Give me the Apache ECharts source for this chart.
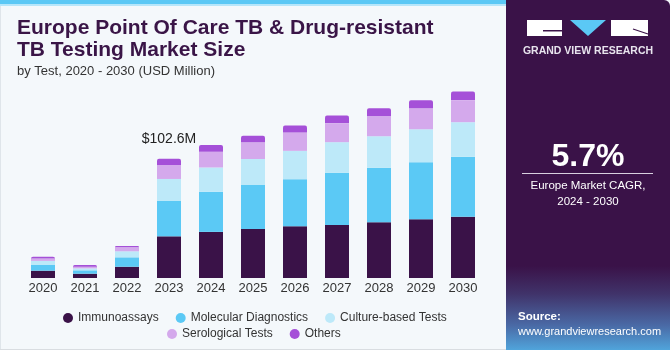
<!DOCTYPE html>
<html lang="en">
<head>
    <meta charset="UTF-8" />
    <title>Europe Point Of Care TB & Drug-resistant TB Testing Market Size</title>
    <script src="https://cdn.jsdelivr.net/npm/echarts@6.0.0/dist/echarts.min.js"></script>
    <style>
        html, body { margin: 0; padding: 0; background: #ffffff; }
        #chart { width: 670px; height: 350px; }
    </style>
</head>
<body>
    <div id="chart"></div>
    <script>
        // datos (USD Million)
        const years = ['2020', '2021', '2022', '2023', '2024', '2025', '2026', '2027', '2028', '2029', '2030'];
        const immunoassays = [6.3, 3.7, 9.7, 35.9, 39.7, 42.2, 44.6, 45.7, 48.0, 50.6, 52.8];
        const molecular = [5.2, 2.9, 8.1, 30.4, 34.5, 37.9, 40.5, 44.8, 46.8, 49.1, 51.5];
        const culture = [3.2, 1.7, 5.2, 19.0, 21.0, 22.4, 24.4, 26.5, 27.3, 28.4, 29.9];
        const serological = [2.0, 1.4, 3.4, 12.1, 13.5, 14.4, 15.8, 16.4, 17.5, 18.1, 19.0];
        const others = [1.7, 1.4, 1.1, 5.2, 5.8, 5.7, 6.0, 6.6, 6.6, 6.9, 7.4];
        const annotationIndex = 3;
        const annotationText = '$102.6M';

        const colors = ['#3a1248', '#5bc9f5', '#bde9f9', '#d4a9ec', '#a550d8'];
        const names = ['Immunoassays', 'Molecular Diagnostics', 'Culture-based Tests', 'Serological Tests', 'Others'];
        const values = [immunoassays, molecular, culture, serological, others];

        const chart = echarts.init(document.getElementById('chart'));

        const series = values.map((data, i) => {
            const s = {
                name: names[i],
                type: 'bar',
                stack: 'total',
                barWidth: 24,
                data: data,
                itemStyle: { color: colors[i] },
                emphasis: { disabled: true }
            };
            if (i === values.length - 1) {
                s.itemStyle.borderRadius = [2, 2, 0, 0];
                s.label = {
                    show: true,
                    position: 'top',
                    distance: 13,
                    fontSize: 14,
                    color: '#222',
                    fontFamily: 'Liberation Sans',
                    formatter: p => p.dataIndex === annotationIndex ? annotationText : ''
                };
            }
            return s;
        });

        const legendText = { fontSize: 12, color: '#333', fontFamily: 'Liberation Sans' };

        chart.setOption({
            animation: false,
            backgroundColor: '#f4f8fb',
            grid: { left: 22, right: 186, top: 69, bottom: 72 },
            xAxis: {
                type: 'category',
                data: years,
                axisLine: { show: false },
                axisTick: { show: false },
                axisLabel: { fontSize: 13, color: '#333', margin: 4, fontFamily: 'Liberation Sans' }
            },
            yAxis: { type: 'value', min: 0, max: 180, show: false },
            legend: [
                {
                    data: names.slice(0, 3),
                    left: 58, top: 307,
                    icon: 'circle', itemWidth: 10, itemHeight: 10, itemGap: 17,
                    textStyle: legendText, selectedMode: false
                },
                {
                    data: names.slice(3),
                    left: 162, top: 323,
                    icon: 'circle', itemWidth: 10, itemHeight: 10, itemGap: 17,
                    textStyle: legendText, selectedMode: false
                }
            ],
            series: series,
            graphic: [
                // borde izquierdo y barra superior
                { type: 'rect', shape: { x: 0, y: 0, width: 1, height: 350 }, style: { fill: '#dfe5ea' } },
                { type: 'rect', shape: { x: 0, y: 349, width: 670, height: 1 }, style: { fill: '#d9dde1' } },
                { type: 'rect', shape: { x: 0, y: 0, width: 506, height: 4 }, style: { fill: '#5bc8f5' } },
                { type: 'rect', shape: { x: 0, y: 4, width: 506, height: 2 }, style: { fill: '#b6e6fa' } },
                // titulo
                {
                    type: 'text', left: 17, top: 17,
                    style: {
                        text: 'Europe Point Of Care TB & Drug-resistant\nTB Testing Market Size',
                        font: 'bold 21px "Liberation Sans"', lineHeight: 22, fill: '#3a1547'
                    }
                },
                {
                    type: 'text', left: 17, top: 65,
                    style: { text: 'by Test, 2020 - 2030 (USD Million)', font: '13px "Liberation Sans"', fill: '#333' }
                },
                // panel derecho
                {
                    type: 'rect',
                    shape: { x: 506, y: 0, width: 164, height: 350, r: [0, 6, 0, 0] },
                    style: {
                        fill: new echarts.graphic.LinearGradient(0, 0, 0, 1, [
                            { offset: 0, color: '#3a1248' },
                            { offset: 0.76, color: '#3a1248' },
                            { offset: 0.84, color: '#40336a' },
                            { offset: 0.93, color: '#4a6aa6' },
                            { offset: 1, color: '#50a4db' }
                        ])
                    }
                },
                // logo
                { type: 'rect', shape: { x: 527, y: 20, width: 35, height: 16 }, style: { fill: '#ffffff' } },
                { type: 'rect', shape: { x: 543, y: 30, width: 19, height: 1.5 }, style: { fill: '#3a1248' } },
                { type: 'polygon', shape: { points: [[570, 20], [606, 20], [588, 36]] }, style: { fill: '#5bc8f5' } },
                { type: 'rect', shape: { x: 611, y: 20, width: 37, height: 16 }, style: { fill: '#ffffff' } },
                { type: 'line', shape: { x1: 633, y1: 29, x2: 648, y2: 34 }, style: { stroke: '#3a1248', lineWidth: 1.2 } },
                {
                    type: 'text', x: 588, y: 51,
                    style: {
                        text: 'GRAND VIEW RESEARCH', font: 'bold 10.5px "Liberation Sans"',
                        fill: '#e8e4ee', align: 'center', verticalAlign: 'middle'
                    }
                },
                {
                    type: 'text', x: 588, y: 157,
                    style: {
                        text: '5.7%', font: 'bold 32px "Liberation Sans"', fill: '#ffffff',
                        align: 'center', verticalAlign: 'middle'
                    }
                },
                { type: 'rect', shape: { x: 522, y: 173, width: 131, height: 1 }, style: { fill: '#d8d0e0' } },
                {
                    type: 'text', x: 588, y: 194,
                    style: {
                        text: 'Europe Market CAGR,\n2024 - 2030', font: '11.5px "Liberation Sans"', lineHeight: 16,
                        fill: '#ffffff', align: 'center', verticalAlign: 'middle'
                    }
                },
                {
                    type: 'text', left: 518, top: 309,
                    style: {
                        text: '{b|Source:}\nwww.grandviewresearch.com', lineHeight: 15, fill: '#ffffff',
                        font: '11px "Liberation Sans"',
                        rich: { b: { fontWeight: 'bold', fontSize: 11.5, fill: '#ffffff', fontFamily: 'Liberation Sans' } }
                    }
                }
            ]
        });
    </script>
</body>
</html>
